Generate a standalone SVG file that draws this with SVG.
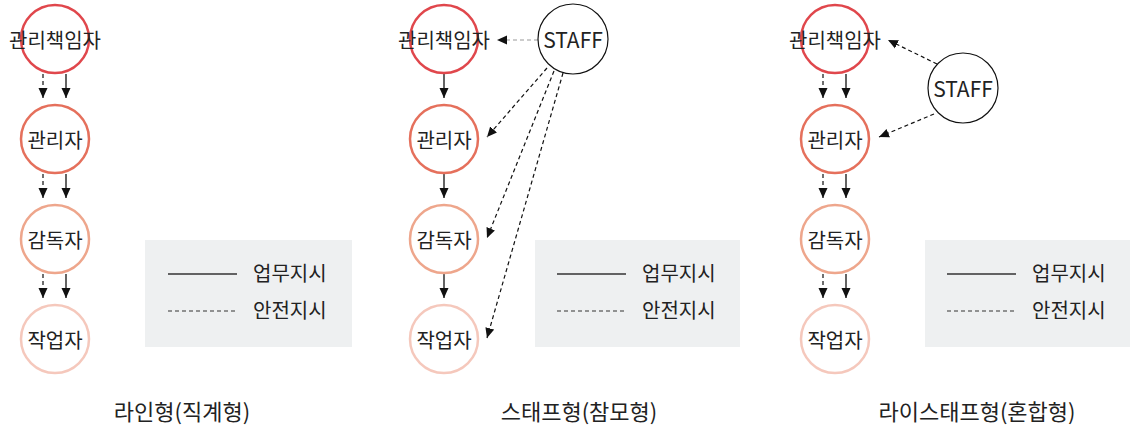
<svg xmlns="http://www.w3.org/2000/svg" width="1135" height="431" viewBox="0 0 1135 431">
<defs>
<marker id="ah" markerUnits="userSpaceOnUse" markerWidth="10" markerHeight="10" viewBox="0 0 10 10" refX="10" refY="5" orient="auto">
<path d="M0,0.5 L10,5 L0,9.5 Z" fill="#111"/>
</marker>
<style>
.t{font-family:"Noto Sans CJK KR","Noto Sans",sans-serif;font-size:20px;fill:#222;text-anchor:middle;dominant-baseline:central}
.st{font-family:"Noto Sans CJK KR","Noto Sans",sans-serif;font-size:21px;fill:#222;text-anchor:middle;dominant-baseline:central}
.ti{font-family:"Noto Sans CJK KR","Noto Sans",sans-serif;font-size:22px;fill:#222;text-anchor:middle}
.lg{font-family:"Noto Sans CJK KR","Noto Sans",sans-serif;font-size:20px;fill:#222}
.c1{fill:#fff;stroke:#e0474c;stroke-width:2.5}
.c2{fill:#fff;stroke:#e5705c;stroke-width:2.5}
.c3{fill:#fff;stroke:#eea68c;stroke-width:2.5}
.c4{fill:#fff;stroke:#f5c8bc;stroke-width:2.5}
.cs{fill:#fff;stroke:#111;stroke-width:1.2}
.s{stroke:#111;stroke-width:1.3;fill:none;marker-end:url(#ah)}
.d{stroke:#111;stroke-width:1.2;fill:none;stroke-dasharray:4 3;marker-end:url(#ah)}
.dg{stroke:#999;stroke-width:1.2;fill:none;stroke-dasharray:4 3;marker-end:url(#ah)}
.box{fill:#eef0f1}
.ls{stroke:#333;stroke-width:1.3}
.ld{stroke:#333;stroke-width:1.2;stroke-dasharray:4 3}
</style>
</defs>
<g id="connectors">
<line class="d" x1="43" y1="74" x2="43" y2="98"/>
<line class="s" x1="66" y1="74" x2="66" y2="98"/>
<line class="d" x1="43" y1="174" x2="43" y2="198"/>
<line class="s" x1="66" y1="174" x2="66" y2="198"/>
<line class="d" x1="43" y1="274" x2="43" y2="298"/>
<line class="s" x1="66" y1="274" x2="66" y2="298"/>
<line class="s" x1="444" y1="74" x2="444" y2="98"/>
<line class="s" x1="444" y1="174" x2="444" y2="198"/>
<line class="s" x1="444" y1="274" x2="444" y2="298"/>
<line class="dg" x1="538" y1="40" x2="497" y2="40"/>
<line class="d" x1="547" y1="68" x2="487" y2="137"/>
<line class="d" x1="554" y1="71" x2="487" y2="238"/>
<line class="d" x1="563" y1="73" x2="487" y2="338"/>
<line class="d" x1="823" y1="74" x2="823" y2="98"/>
<line class="s" x1="846" y1="74" x2="846" y2="98"/>
<line class="d" x1="823" y1="174" x2="823" y2="198"/>
<line class="s" x1="846" y1="174" x2="846" y2="198"/>
<line class="d" x1="823" y1="274" x2="823" y2="298"/>
<line class="s" x1="846" y1="274" x2="846" y2="298"/>
<line class="d" x1="937" y1="64" x2="888" y2="40"/>
<line class="d" x1="934" y1="114" x2="879" y2="137"/>
</g>
<g id="p1-n1"><circle class="c1" cx="55" cy="39" r="34"/><text class="t" x="55" y="39">관리책임자</text></g>
<g id="p1-n2"><circle class="c2" cx="55" cy="139" r="34"/><text class="t" x="55" y="139">관리자</text></g>
<g id="p1-n3"><circle class="c3" cx="55" cy="239" r="34"/><text class="t" x="55" y="239">감독자</text></g>
<g id="p1-n4"><circle class="c4" cx="55" cy="339" r="34"/><text class="t" x="55" y="339">작업자</text></g>
<g id="p2-n1"><circle class="c1" cx="444" cy="39" r="34"/><text class="t" x="444" y="39">관리책임자</text></g>
<g id="p2-n2"><circle class="c2" cx="444" cy="139" r="34"/><text class="t" x="444" y="139">관리자</text></g>
<g id="p2-n3"><circle class="c3" cx="444" cy="239" r="34"/><text class="t" x="444" y="239">감독자</text></g>
<g id="p2-n4"><circle class="c4" cx="444" cy="339" r="34"/><text class="t" x="444" y="339">작업자</text></g>
<g id="p2-staff"><circle class="cs" cx="573" cy="39" r="35"/><text class="st" x="573" y="39">STAFF</text></g>
<g id="p3-n1"><circle class="c1" cx="835" cy="39" r="34"/><text class="t" x="835" y="39">관리책임자</text></g>
<g id="p3-n2"><circle class="c2" cx="835" cy="139" r="34"/><text class="t" x="835" y="139">관리자</text></g>
<g id="p3-n3"><circle class="c3" cx="835" cy="239" r="34"/><text class="t" x="835" y="239">감독자</text></g>
<g id="p3-n4"><circle class="c4" cx="835" cy="339" r="34"/><text class="t" x="835" y="339">작업자</text></g>
<g id="p3-staff"><circle class="cs" cx="963" cy="88" r="35"/><text class="st" x="963" y="88">STAFF</text></g>
<g id="legend1">
<rect class="box" x="145" y="240" width="207" height="107"/>
<line class="ls" x1="168" y1="274" x2="237" y2="274"/>
<line class="ld" x1="168" y1="311" x2="237" y2="311"/>
<text class="lg" x="253" y="281">업무지시</text>
<text class="lg" x="253" y="318">안전지시</text>
</g>
<g id="legend2">
<rect class="box" x="535" y="240" width="205" height="107"/>
<line class="ls" x1="557" y1="274" x2="626" y2="274"/>
<line class="ld" x1="557" y1="311" x2="626" y2="311"/>
<text class="lg" x="642" y="281">업무지시</text>
<text class="lg" x="642" y="318">안전지시</text>
</g>
<g id="legend3">
<rect class="box" x="925" y="240" width="205" height="107"/>
<line class="ls" x1="947" y1="274" x2="1016" y2="274"/>
<line class="ld" x1="947" y1="311" x2="1016" y2="311"/>
<text class="lg" x="1032" y="281">업무지시</text>
<text class="lg" x="1032" y="318">안전지시</text>
</g>
<g id="titles">
<text class="ti" x="182" y="420">라인형(직계형)</text>
<text class="ti" x="579" y="420">스태프형(참모형)</text>
<text class="ti" x="977" y="420">라이스태프형(혼합형)</text>
</g>
</svg>
